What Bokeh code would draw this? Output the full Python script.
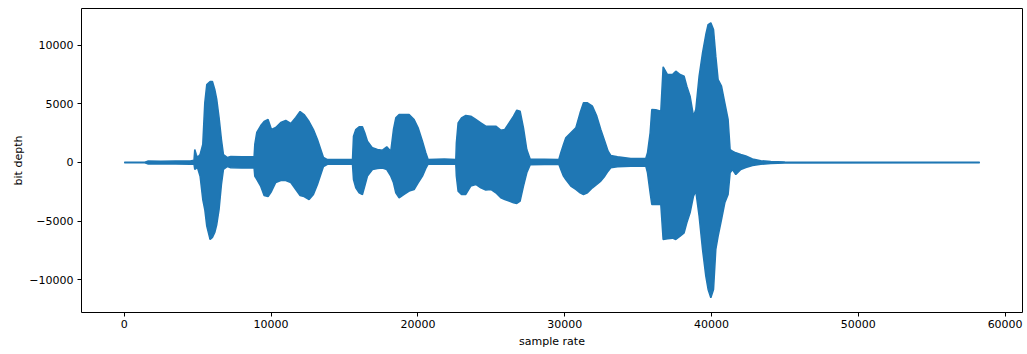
from bokeh.plotting import figure
from bokeh.models import Range1d, FixedTicker, ColumnDataSource
from bokeh.embed import file_html
from bokeh.resources import INLINE

# Envelope of the waveform (sample index, max, min)
sample = [0, 1400, 1600, 2500, 3500, 4500, 4750, 4802, 4900, 4985, 5165, 5347, 5484,
          5620, 5847, 6006, 6165, 6301, 6458, 6619, 6756, 7028, 7255, 8000, 8843, 8890,
          9026, 9298, 9524, 9796, 10027, 10320, 10661, 11001, 11342, 11682, 11976, 12248,
          12589, 12885, 13160, 13386, 13568, 13840, 15545, 15613, 15770, 15997, 16224,
          16383, 16565, 16906, 17247, 17588, 17881, 18154, 18336, 18495, 18722, 19063,
          19403, 19744, 20017, 20312, 20539, 20698, 21800, 22583, 22620, 22740, 22970,
          23263, 23603, 23944, 24285, 24626, 24966, 25307, 25647, 25920, 26214, 26513,
          26737, 26964, 27192, 27418, 27645, 29600, 29733, 29915, 30075, 30416, 30756,
          31048, 31279, 31552, 31893, 32186, 32459, 32731, 32957, 33140, 33597, 34500,
          35523, 35640, 35820, 35932, 36205, 36546, 36705, 37002, 37343, 37568, 37862,
          38134, 38318, 38541, 38773, 38930, 39156, 39388, 39612, 39769, 39953, 40137,
          40293, 40450, 40681, 40906, 41131, 41267, 41431, 41655, 41996, 42337, 42792,
          43358, 44039, 45000, 58270]
upper = [30, 30, 120, 100, 130, 120, 200, 1108, 700, 426, 682, 1535, 5087,
         6650, 6905, 6905, 6223, 5370, 3836, 1961, 682, 426, 511, 480, 480, 1535,
         2558, 3154, 3495, 3666, 2813, 2984, 3410, 3580, 3325, 3836, 4348, 4092,
         3495, 2813, 1961, 1108, 426, 250, 250, 2245, 2813, 3040, 3040,
         2529, 1819, 1250, 1108, 1050, 1335, 966, 2813, 3808, 4092, 4092,
         4092, 3666, 2955, 1819, 824, 250, 300, 250, 1676, 3382, 3808,
         4007, 3950, 3666, 3382, 3098, 3098, 3098, 2756, 2813, 3382, 3950,
         4461, 4376, 2955, 1108, 300, 250, 824, 1535, 2103, 2529, 2955,
         4234, 5087, 5087, 4802, 3950, 2813, 1819, 966, 600, 483, 341,
         341, 824, 2529, 4518, 4490, 4376, 8158, 7502, 7502, 7786, 7502,
         7360, 6507, 5654, 3950, 4518, 7360, 9350, 10912, 11764, 11906, 11338,
         9064, 7076, 6507, 5087, 3666, 1108, 966, 824, 682, 550, 300,
         150, 80, 40, 30]
lower = [-30, -30, -120, -130, -120, -140, -150, -597, -500, -426, -1168, -3154, -4007,
         -5430, -6564, -6394, -5968, -5285, -4007, -1876, -597, -341, -452, -480, -480, -1165,
         -1449, -2046, -2813, -2899, -2472, -1705, -1535, -1535, -1705, -2302, -2813, -2899,
         -3154, -2728, -1876, -1023, -341, -150, -150, -1449, -2160, -2586, -2728,
         -2018, -1165, -597, -511, -480, -597, -1165, -1733, -2586, -3012, -2728,
         -2444, -2302, -1733, -1165, -511, -150, -150, -150, -1165, -2444, -2728,
         -2728, -2018, -1876, -2160, -2350, -2302, -2586, -3012, -3154, -3296, -3438,
         -3494, -3296, -2018, -881, -200, -150, -597, -1165, -1449, -2018, -2302,
         -2586, -2728, -2586, -2160, -1876, -1591, -1165, -739, -450, -369, -312,
         -312, -881, -2586, -3580, -3580, -3580, -6564, -6500, -6450, -6564, -6280,
         -5997, -5143, -4291, -2870, -2444, -4575, -7417, -9690, -10827, -11537, -10827,
         -7417, -6280, -4859, -3438, -2728, -881, -600, -1023, -600, -430, -250,
         -150, -80, -40, -30]

x_ticks = [0, 10000, 20000, 30000, 40000, 50000, 60000]
y_ticks = [-10000, -5000, 0, 5000, 10000]
y_tick_labels = {-10000: "\u221210000", -5000: "\u22125000", 0: "0", 5000: "5000", 10000: "10000"}

COLOR = "#1f77b4"
FONT = "DejaVu Sans"

src = ColumnDataSource(dict(x=sample, hi=upper, lo=lower))

p = figure(frame_width=941, frame_height=304, output_backend="svg", toolbar_location=None,
           x_range=Range1d(-2913, 61183), y_range=Range1d(-12790, 13130),
           min_border_left=81, min_border_right=4, min_border_top=8, min_border_bottom=33)

p.varea(x="x", y1="lo", y2="hi", source=src, fill_color=COLOR)
p.line(x="x", y="hi", source=src, line_color=COLOR, line_width=1.5)
p.line(x="x", y="lo", source=src, line_color=COLOR, line_width=1.5)

p.xgrid.visible = False
p.ygrid.visible = False
p.outline_line_color = "black"
p.outline_line_width = 1
p.background_fill_color = "white"
p.border_fill_color = "white"

for ax in (p.xaxis[0], p.yaxis[0]):
    ax.axis_line_color = None
    ax.major_tick_in = 0
    ax.major_tick_out = 4
    ax.major_tick_line_color = "black"
    ax.minor_tick_line_color = None
    ax.major_label_text_font = FONT
    ax.major_label_text_font_size = "11px"
    ax.major_label_text_color = "black"
    ax.axis_label_text_font = FONT
    ax.axis_label_text_font_size = "11px"
    ax.axis_label_text_font_style = "normal"
    ax.axis_label_text_color = "black"

p.xaxis[0].ticker = FixedTicker(ticks=x_ticks)
p.yaxis[0].ticker = FixedTicker(ticks=y_ticks)
p.yaxis[0].major_label_overrides = y_tick_labels
p.xaxis[0].axis_label = "sample rate"
p.yaxis[0].axis_label = "bit depth"
p.xaxis[0].major_label_standoff = 3
p.yaxis[0].major_label_standoff = 4
p.xaxis[0].axis_label_standoff = 4
p.yaxis[0].axis_label_standoff = 1

open("out.html", "w").write(file_html(p, INLINE))
